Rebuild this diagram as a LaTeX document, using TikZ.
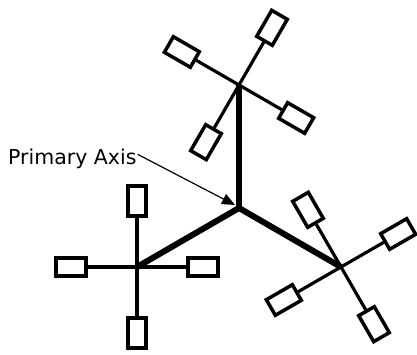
\documentclass[tikz,border=0pt]{standalone}
\usepackage{fontspec}
\setmainfont{DejaVu Sans}
\usetikzlibrary{arrows.meta}
\begin{document}
\begin{tikzpicture}[x=1pt,y=1pt,
  box/.style={draw=black,line width=3.5pt,minimum width=18pt,minimum height=30pt,inner sep=0pt,fill=white},
  axisline/.style={line width=6pt},
  spoke/.style={line width=3.2pt},
  ptr/.style={line width=1.2pt,-{Triangle[length=13pt,width=11pt]}},
  lbl/.style={font=\fontsize{20.5}{24}\selectfont,inner sep=0pt,anchor=base west}]
\useasboundingbox (0,0) rectangle (417,354);
\coordinate (c) at (239,146);
\coordinate (ht) at (239,269);
\coordinate (hl) at (137,87);
\coordinate (hr) at (341,87);
\draw[axisline] (c) -- (ht);
\draw[axisline] (c) -- (hl);
\draw[axisline] (c) -- (hr);
\foreach \a in {0,90,180,270}{
  \node[box,rotate=\a-90] (bl\a) at ([shift={(\a:66)}]hl) {};
  \draw[spoke] (hl) -- (bl\a);
}
\foreach \a in {60,150,240,330}{
  \node[box,rotate=\a-90] (bt\a) at ([shift={(\a:66)}]ht) {};
  \draw[spoke] (ht) -- (bt\a);
}
\foreach \a in {30,120,210,300}{
  \node[box,rotate=\a-90] (br\a) at ([shift={(\a:66)}]hr) {};
  \draw[spoke] (hr) -- (br\a);
}
\node[lbl] (label) at (8,190) {Primary Axis};
\coordinate (tip) at (235,149);
\draw[ptr] ([xshift=1pt,yshift=4pt]label.east) -- (tip);
\end{tikzpicture}
\end{document}
